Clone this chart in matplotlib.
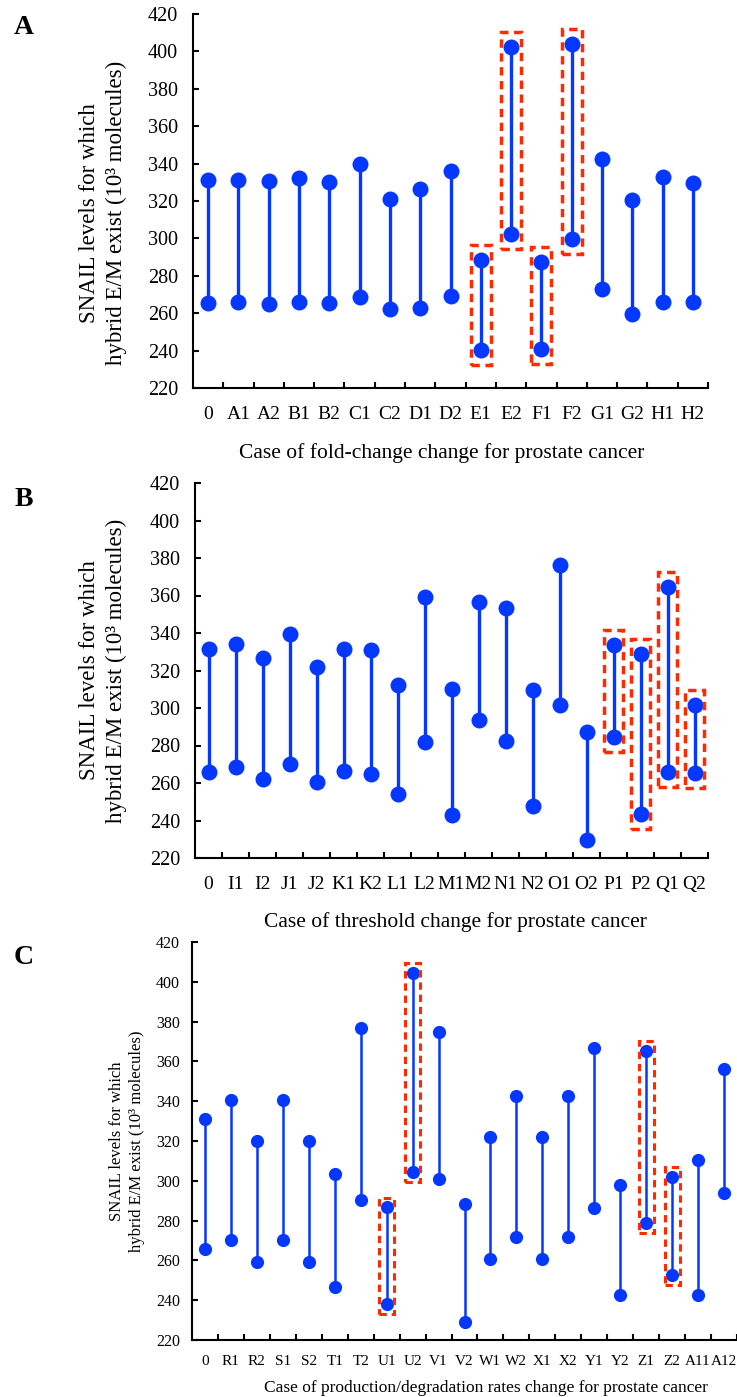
import numpy as np
import matplotlib
matplotlib.use("Agg")
import matplotlib.pyplot as plt
from matplotlib.patches import Rectangle
from matplotlib.ticker import FixedLocator

plt.rcParams['font.family'] = ['Liberation Serif', 'DejaVu Serif']

#input
cases_a = ['0', 'A1', 'A2', 'B1', 'B2', 'C1', 'C2', 'D1', 'D2', 'E1', 'E2', 'F1', 'F2', 'G1', 'G2', 'H1', 'H2']
upper_a = [331.1, 331.4, 330.6, 332.2, 330.0, 339.9, 321.3, 326.4, 336.3, 288.5, 402.6, 287.3, 403.9, 342.7, 320.7, 332.7, 329.7]
lower_a = [265.6, 266.2, 265.1, 266.2, 265.3, 268.8, 262.2, 262.9, 269.2, 240.2, 302.3, 240.6, 299.8, 272.8, 259.4, 265.8, 265.8]
boxed_a = ['E1', 'E2', 'F1', 'F2']

cases_b = ['0', 'I1', 'I2', 'J1', 'J2', 'K1', 'K2', 'L1', 'L2', 'M1', 'M2', 'N1', 'N2', 'O1', 'O2', 'P1', 'P2', 'Q1', 'Q2']
upper_b = [331.4, 334.2, 326.8, 339.4, 321.8, 331.7, 330.9, 312.5, 359.1, 310.3, 356.4, 353.1, 309.6, 376.3, 287.1, 333.5, 328.9, 364.6, 301.6]
lower_b = [266.1, 268.4, 262.0, 270.0, 260.3, 266.6, 264.9, 254.1, 281.9, 243.1, 293.6, 282.5, 248.0, 301.8, 229.6, 284.6, 243.6, 265.9, 265.2]
boxed_b = ['P1', 'P2', 'Q1', 'Q2']

cases_c = ['0', 'R1', 'R2', 'S1', 'S2', 'T1', 'T2', 'U1', 'U2', 'V1', 'V2', 'W1', 'W2', 'X1', 'X2', 'Y1', 'Y2', 'Z1', 'Z2', 'A11', 'A12']
upper_c = [331.1, 340.5, 319.9, 340.5, 319.9, 303.2, 376.7, 286.6, 404.4, 374.6, 288.3, 321.8, 342.7, 321.8, 342.7, 366.6, 298.0, 365.4, 301.8, 310.4, 356.1]
lower_c = [265.7, 270.4, 259.3, 270.4, 259.3, 246.8, 290.6, 238.1, 304.2, 300.7, 229.2, 260.7, 271.9, 260.7, 271.9, 286.1, 242.6, 278.7, 252.5, 242.6, 293.8]
boxed_c = ['U1', 'U2', 'Z1', 'Z2']

y_ticks = [220, 240, 260, 280, 300, 320, 340, 360, 380, 400, 420]
ylabel = 'SNAIL levels for which\nhybrid E/M exist (10³ molecules)'

BLUE = '#0538ff'
RED = '#ff2a00'

W, H = 737, 1397


def rect(left, top, right, bottom):
    return [left / W, 1 - bottom / H, (right - left) / W, (bottom - top) / H]


def panel(fig, box, cases, upper, lower, boxed, xlabel, letter, letter_y,
          ms, lw, fs, yfs, lab_fs, ylab_fs, pad_box, half_w, ylab_x, ylab_y,
          xlab_y, xlab_x, box_lw):
    ax = fig.add_axes(box)
    x = np.arange(len(cases))
    ax.vlines(x, lower, upper, color=BLUE, lw=lw, zorder=2)
    ax.plot(x, upper, 'o', color=BLUE, ms=ms, mew=0, zorder=3)
    ax.plot(x, lower, 'o', color=BLUE, ms=ms, mew=0, zorder=3)

    # dashed red frames around the highlighted cases
    for name in boxed:
        i = cases.index(name)
        lo = min(upper[i], lower[i]) - pad_box
        hi = max(upper[i], lower[i]) + pad_box
        ax.add_patch(Rectangle((i - half_w, lo), 2 * half_w, hi - lo, fill=False,
                               ec=RED, lw=box_lw, ls=(0, (2.4, 1.6)), zorder=4))

    ax.set_xlim(-0.5, len(cases) - 0.5)
    ax.set_ylim(220, 420)
    ax.set_yticks(y_ticks)
    ax.set_xticks(x)
    ax.set_xticklabels(cases)
    ax.xaxis.set_minor_locator(FixedLocator(np.arange(0.5, len(cases), 1)))
    ax.tick_params(axis='x', which='major', length=0, pad=fs * 0.95, labelsize=fs)
    ax.tick_params(axis='x', which='minor', direction='in', length=4, width=1.5)
    ax.tick_params(axis='y', direction='in', length=4, width=1.5, labelsize=yfs, pad=yfs * 0.75)
    for s in ['top', 'right']:
        ax.spines[s].set_visible(False)
    for s in ['left', 'bottom']:
        ax.spines[s].set_linewidth(1.5)

    ax.set_ylabel(ylabel, fontsize=ylab_fs, ha='center', va='center', linespacing=1.3)
    ax.yaxis.set_label_coords(ylab_x, ylab_y)
    ax.set_xlabel(xlabel, fontsize=lab_fs, va='center')
    ax.xaxis.set_label_coords(xlab_x, xlab_y)

    fig.text(24 / W, 1 - letter_y / H, letter, fontsize=20, fontweight='bold',
             ha='center', va='center')
    return ax


fig = plt.figure(figsize=(W / 100, H / 100), dpi=100)

panel(fig, rect(193, 14, 708, 388), cases_a, upper_a, lower_a, boxed_a,
      'Case of fold-change change for prostate cancer', 'A', 27,
      ms=11.5, lw=2.4, fs=14, yfs=14.5, lab_fs=15.5, ylab_fs=16.5, pad_box=8, half_w=0.33,
      ylab_x=-(193 - 103) / 515, ylab_y=0.468, xlab_y=-(453 - 388) / 374, xlab_x=0.483,
      box_lw=2.5)

panel(fig, rect(195, 483, 708, 858), cases_b, upper_b, lower_b, boxed_b,
      'Case of threshold change for prostate cancer', 'B', 500,
      ms=11.5, lw=2.4, fs=14, yfs=14.5, lab_fs=15.5, ylab_fs=16.5, pad_box=8, half_w=0.36,
      ylab_x=-(195 - 103) / 513, ylab_y=0.5, xlab_y=-(922 - 858) / 375, xlab_x=0.507,
      box_lw=2.5)

panel(fig, rect(192, 942, 737, 1340), cases_c, upper_c, lower_c, boxed_c,
      'Case of production/degradation rates change for prostate cancer', 'C', 958,
      ms=9.5, lw=1.8, fs=11, yfs=11.5, lab_fs=12.5, ylab_fs=12, pad_box=5, half_w=0.29,
      ylab_x=-(192 - 127) / 545, ylab_y=0.5, xlab_y=-(1388 - 1340) / 398, xlab_x=0.54,
      box_lw=2.2)

fig.savefig('out.png', dpi=100)
